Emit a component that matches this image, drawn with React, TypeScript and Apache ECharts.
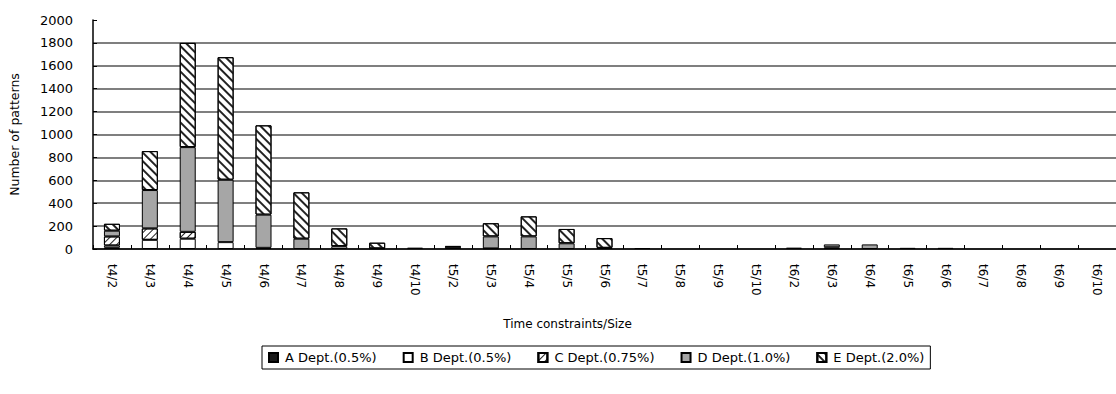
import React, { useEffect, useRef } from 'react';
import * as echarts from 'echarts';

const categories = [
  't4/2', 't4/3', 't4/4', 't4/5', 't4/6', 't4/7', 't4/8', 't4/9', 't4/10',
  't5/2', 't5/3', 't5/4', 't5/5', 't5/6', 't5/7', 't5/8', 't5/9', 't5/10',
  't6/2', 't6/3', 't6/4', 't6/5', 't6/6', 't6/7', 't6/8', 't6/9', 't6/10',
];

const seriesNames = ['A Dept.(0.5%)', 'B Dept.(0.5%)', 'C Dept.(0.75%)', 'D Dept.(1.0%)', 'E Dept.(2.0%)'];

const aValues = [10, 0, 0, 0, 10, 0, 0, 0, 0, 20, 5, 0, 0, 0, 0, 0, 0, 0, 0, 15, 0, 0, 0, 0, 0, 0, 0];
const bValues = [20, 80, 90, 60, 0, 0, 0, 0, 0, 0, 0, 0, 0, 0, 0, 0, 0, 0, 0, 0, 0, 0, 0, 0, 0, 0, 0];
const cValues = [80, 100, 60, 0, 0, 0, 0, 0, 0, 0, 0, 0, 0, 0, 0, 0, 0, 0, 0, 0, 0, 0, 0, 0, 0, 0, 0];
const dValues = [50, 335, 740, 545, 290, 90, 25, 5, 12, 5, 105, 110, 50, 10, 8, 0, 0, 0, 12, 25, 40, 10, 10, 0, 0, 0, 0];
const eValues = [60, 340, 910, 1070, 780, 405, 155, 50, 0, 0, 115, 175, 125, 85, 0, 0, 0, 0, 0, 0, 0, 0, 0, 0, 0, 0, 0];

const yTicks = { min: 0, max: 2000, interval: 200 };

export default function App() {
  const ref = useRef<HTMLDivElement>(null);
  useEffect(() => {
    document.body.style.margin = '0';
    const chart = echarts.init(ref.current as HTMLDivElement, null, { renderer: 'svg' });
    const font = 'DejaVu Sans, sans-serif';
    const clean = (arr: number[]) => arr.map((v) => (v === 0 ? '-' : v));
    const fills = [
      { color: '#1a1a1a' },
      { color: '#ffffff' },
      {
        color: '#ffffff',
        decal: {
          symbol: 'rect', symbolSize: 1, color: '#222', backgroundColor: '#fff',
          dashArrayX: [1, 0], dashArrayY: [1, 3.5], rotation: -Math.PI / 4,
        },
      },
      { color: '#a6a6a6' },
      {
        color: '#ffffff',
        decal: {
          symbol: 'rect', symbolSize: 1, color: '#222', backgroundColor: '#fff',
          dashArrayX: [1, 0], dashArrayY: [1.3, 3.2], rotation: Math.PI / 4,
        },
      },
    ];
    const values = [aValues, bValues, cValues, dValues, eValues];
    chart.setOption({
      animation: false,
      textStyle: { fontFamily: font, color: '#000' },
      grid: { left: 92, top: 20, width: 1031, bottom: 145, containLabel: false },
      legend: {
        left: 262,
        top: 346,
        icon: 'rect',
        itemWidth: 9,
        itemHeight: 9,
        itemGap: 26,
        padding: [5, 6],
        borderColor: '#000',
        borderWidth: 1,
        textStyle: { fontFamily: font, fontSize: 13, color: '#000', padding: [0, 0, 0, 2] },
        data: seriesNames,
      },
      xAxis: {
        type: 'category',
        data: categories,
        name: 'Time constraints/Size',
        nameLocation: 'middle',
        nameGap: 69,
        nameTextStyle: { fontFamily: font, fontSize: 12, color: '#000', padding: [0, 74, 0, 0] },
        axisLine: { lineStyle: { color: '#000', width: 1.5 } },
        axisTick: { show: true, inside: true, length: 4, lineStyle: { color: '#000' } },
        axisLabel: { rotate: -90, fontSize: 12, color: '#000', margin: 15, fontFamily: font },
      },
      yAxis: {
        type: 'value',
        min: yTicks.min,
        max: yTicks.max,
        interval: yTicks.interval,
        name: 'Number of patterns',
        nameLocation: 'middle',
        nameGap: 72,
        nameTextStyle: { fontFamily: font, fontSize: 12.5, color: '#000' },
        axisLine: { show: true, lineStyle: { color: '#000', width: 1.5 } },
        axisTick: { show: true, inside: true, length: 4, lineStyle: { color: '#000' } },
        axisLabel: { fontSize: 13, color: '#000', margin: 20, fontFamily: font, formatter: (v: number) => String(v) },
        splitLine: { show: true, showMaxLine: false, lineStyle: { color: '#555', width: 1.5 } },
      },
      series: seriesNames.map((name, i) => ({
        name,
        type: 'bar',
        stack: 'total',
        barWidth: 16,
        data: clean(values[i]),
        itemStyle: { ...fills[i], borderColor: '#000', borderWidth: 1 },
      })),
    });
    return () => chart.dispose();
  }, []);
  return <div ref={ref} style={{ width: 1116, height: 394 }} />;
}
